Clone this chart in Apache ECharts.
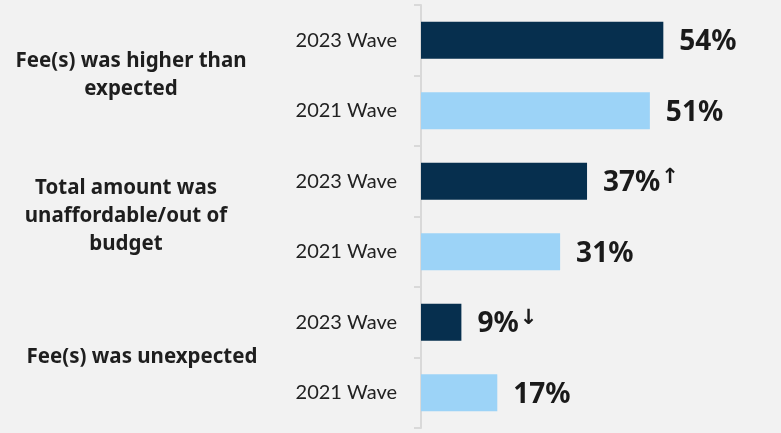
<!DOCTYPE html>
<html>
<head>
<meta charset="utf-8">
<script src="https://cdn.jsdelivr.net/npm/echarts@6/dist/echarts.min.js"></script>
<style>
  html, body { margin: 0; padding: 0; background: #f2f2f2; }
  #chart { width: 781px; height: 433px; }
</style>
</head>
<body>
<div id="chart"></div>
<script>
// data
let waves = ["2023 Wave", "2021 Wave", "2023 Wave", "2021 Wave", "2023 Wave", "2021 Wave"];
let groups = ["Fee(s) was higher than\nexpected", "Total amount was\nunaffordable/out of\nbudget", "Fee(s) was unexpected"];
let values = [54, 51, 37, 31, 9, 17];
let arrows = ["", "", "up", "", "down", ""];
let colours = ["#062f4e", "#9cd3f7", "#062f4e", "#9cd3f7", "#062f4e", "#9cd3f7"];
// small nudges for the group labels (the original is not centred on one line)
let groupPad = [[0, 0, 0, 0], [0, 10, 0, 0], [0, 0, 0, 22]];

let font = "Lato, 'Noto Sans', sans-serif";
let boldFont = "'Noto Sans', Lato, sans-serif";

let myChart = echarts.init(document.getElementById("chart"));

let data = [];
for (let [i, v] of values.entries())
{
    data.push({
        value: v,
        itemStyle: {color: colours[i]},
        arrow: arrows[i]
    });
}

let groupData = [];
for (let [i, g] of groups.entries())
{
    groupData.push({
        value: g,
        textStyle: {
            align: "center",
            fontFamily: boldFont,
            fontWeight: "bold",
            fontSize: 20.5,
            lineHeight: 28,
            color: "#1e1e1e",
            padding: groupPad[i]
        }
    });
}

// keep categories unique, show only the wave text
let waveCats = waves.map((w, i) => w + "|" + i);

let option = {
    backgroundColor: "#f2f2f2",
    animation: false,
    grid: {
        left: 421,
        right: 1,
        top: 5,
        bottom: 5,
        containLabel: false,
        outerBoundsMode: "none"
    },
    xAxis: {
        type: "value",
        min: 0,
        max: 80,
        show: false
    },
    yAxis: [
        {
            type: "category",
            inverse: true,
            data: waveCats,
            axisLine: {show: true, lineStyle: {color: "#d9d9d9", width: 2}},
            axisTick: {show: true, length: 7, lineStyle: {color: "#d9d9d9", width: 2}},
            axisLabel: {
                margin: 24,
                fontFamily: font,
                fontSize: 20,
                color: "#222",
                formatter: function(v) { return v.split("|")[0]; }
            }
        },
        {
            type: "category",
            inverse: true,
            position: "left",
            data: groupData,
            axisLine: {show: false},
            axisTick: {show: false},
            axisLabel: {
                margin: 290,
                align: "center",
                fontFamily: boldFont,
                fontWeight: "bold",
                fontSize: 20.5,
                lineHeight: 28,
                color: "#1e1e1e"
            }
        }
    ],
    series: [
        {
            type: "bar",
            yAxisIndex: 0,
            barWidth: 37,
            data: data,
            label: {
                show: true,
                position: "right",
                distance: 16,
                formatter: function(p) {
                    let a = p.data.arrow;
                    let txt = "{v|" + p.value + "%}";
                    if (a === "up") txt += "{a|\u2191}";
                    if (a === "down") txt += "{a|\u2193}";
                    return txt;
                },
                rich: {
                    v: {
                        fontFamily: boldFont,
                        fontWeight: "bold",
                        fontSize: 28,
                        color: "#1a1a1a",
                        padding: [4, 0, 0, 0]
                    },
                    a: {
                        fontFamily: "'Noto Sans', 'DejaVu Sans', sans-serif",
                        fontWeight: "bold",
                        fontSize: 21,
                        color: "#1a1a1a",
                        padding: [0, 0, 8, 1]
                    }
                }
            }
        }
    ]
};

myChart.setOption(option);
</script>
</body>
</html>
